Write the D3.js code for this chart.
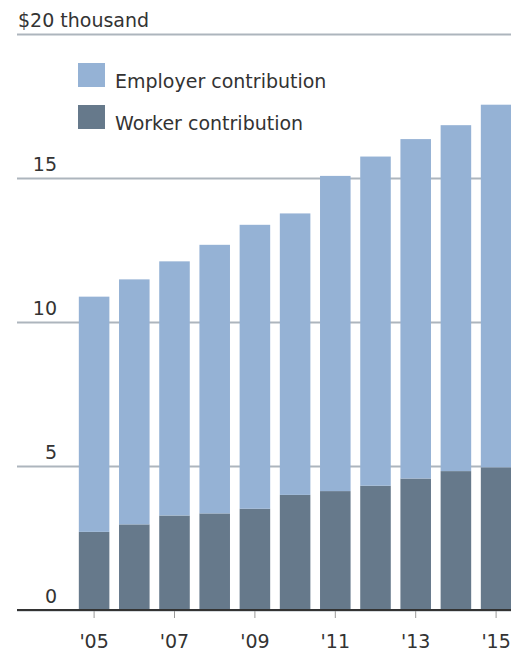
<!DOCTYPE html>
<html>
<head>
<meta charset="utf-8">
<script src="https://cdn.jsdelivr.net/npm/d3@7"></script>
<style>
  html, body { margin: 0; padding: 0; background: #fff; }
  svg { display: block; }
  text { font-family: "DejaVu Sans", Verdana, sans-serif; fill: #333; }
</style>
</head>
<body>
<svg id="chart" width="511" height="652"></svg>
<script>
// Average annual family health-insurance premium, in thousands of dollars
const years = ["2005", "2006", "2007", "2008", "2009", "2010", "2011", "2012", "2013", "2014", "2015"];
const workerContribution   = [2.713, 2.973, 3.281, 3.354, 3.515, 3.997, 4.129, 4.316, 4.565, 4.823, 4.955];
const employerContribution = [8.167, 8.507, 8.825, 9.326, 9.860, 9.773, 10.944, 11.429, 11.786, 12.011, 12.590];
const seriesNames = ["Worker contribution", "Employer contribution"];
const yTicks = [0, 5, 10, 15, 20];
const xTickYears = ["2005", "2007", "2009", "2011", "2013", "2015"];

const colors = { "Worker contribution": "#66798b", "Employer contribution": "#95b2d5" };

const svg = d3.select("#chart");
const W = 511;
const gridLeft = 17;

const rows = years.map((y, i) => ({
  year: y,
  "Worker contribution": workerContribution[i],
  "Employer contribution": employerContribution[i]
}));

const x = d3.scaleBand()
  .domain(years)
  .range([74, 516.2])
  .paddingInner(0.24)
  .paddingOuter(0.12);

const y = d3.scaleLinear().domain([0, 20]).range([610, 34]);

// Horizontal gridlines with value labels
const yAxis = d3.axisRight(y)
  .tickValues(yTicks)
  .tickSize(W - gridLeft)
  .tickFormat(d => d === 20 ? "$20 thousand" : d);

const gy = svg.append("g")
  .attr("transform", `translate(${gridLeft},0)`)
  .call(yAxis);
gy.select(".domain").remove();
gy.selectAll(".tick line")
  .attr("stroke", "#adb5bd")
  .attr("stroke-width", 2);
gy.selectAll(".tick text")
  .attr("font-size", 19)
  .attr("fill", "#333")
  .attr("dy", 0)
  .attr("y", -8)
  .attr("x", d => d === 20 ? 1 : 40)
  .attr("text-anchor", d => d === 20 ? "start" : "end");

// Stacked bars: worker share at the bottom, employer share on top
const stacked = d3.stack().keys(seriesNames)(rows);

svg.append("g")
  .selectAll("g")
  .data(stacked)
  .join("g")
  .attr("fill", s => colors[s.key])
  .selectAll("rect")
  .data(s => s)
  .join("rect")
  .attr("x", d => x(d.data.year))
  .attr("width", x.bandwidth())
  .attr("y", d => y(d[1]))
  .attr("height", d => y(d[0]) - y(d[1]));

// Baseline and year ticks
const xAxis = d3.axisBottom(x)
  .tickValues(xTickYears)
  .tickSize(8)
  .tickSizeOuter(0)
  .tickFormat(d => "'" + d.slice(2));

const gx = svg.append("g")
  .attr("transform", `translate(0,${y(0)})`)
  .call(xAxis);
gx.select(".domain").remove();
gx.selectAll(".tick line").attr("stroke", "#999").attr("stroke-width", 1);
gx.selectAll(".tick text")
  .attr("font-size", 19)
  .attr("fill", "#333")
  .attr("dy", 0)
  .attr("y", 38);

svg.append("line")
  .attr("x1", gridLeft).attr("x2", W)
  .attr("y1", y(0)).attr("y2", y(0))
  .attr("stroke", "#333")
  .attr("stroke-width", 2);

// Legend
const legendItems = ["Employer contribution", "Worker contribution"];
const legend = svg.append("g").attr("transform", "translate(78,63)");
const li = legend.selectAll("g")
  .data(legendItems)
  .join("g")
  .attr("transform", (d, i) => `translate(0,${i * 42})`);
li.append("rect")
  .attr("width", 27)
  .attr("height", 24)
  .attr("fill", d => colors[d]);
li.append("text")
  .attr("x", 37)
  .attr("y", 25)
  .attr("font-size", 19)
  .text(d => d);
</script>
</body>
</html>
